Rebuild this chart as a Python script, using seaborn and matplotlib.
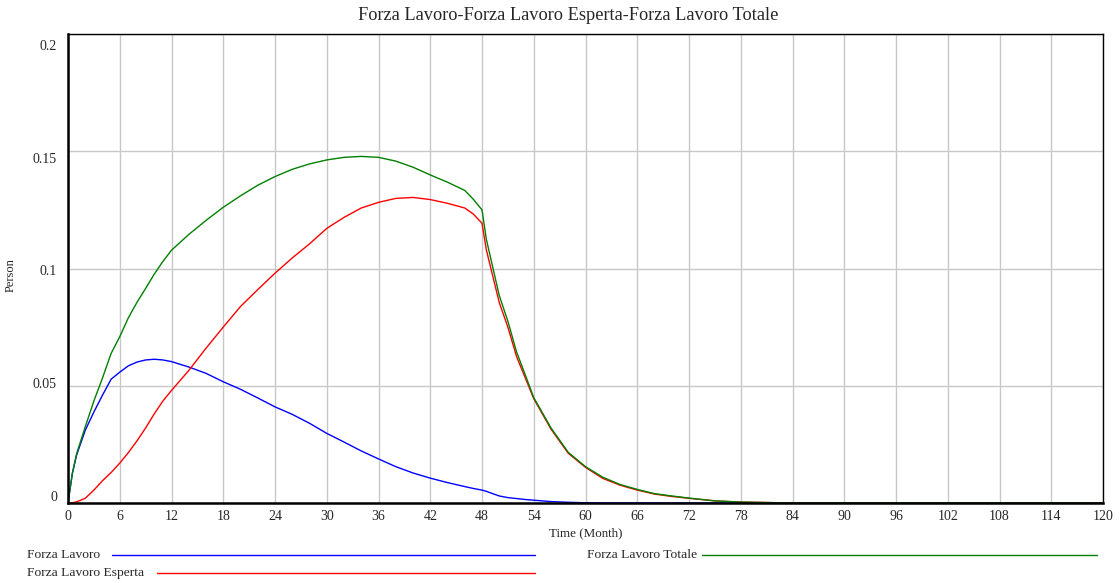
import numpy as np
import pandas as pd
import matplotlib
matplotlib.use("Agg")
import matplotlib.pyplot as plt
import matplotlib.transforms as mtrans
from matplotlib.lines import Line2D
import seaborn as sns

# ---- data ----
time = [0, 0.5, 1, 2, 3, 4, 5, 6, 7, 8, 9, 10, 11, 12, 14, 16, 18, 20, 22, 24, 26, 28, 30, 32, 34,
        36, 38, 40, 42, 44, 46, 47, 48, 48.5, 49, 50, 51, 52, 53, 54, 55, 56, 58, 60, 62, 64,
        66, 68, 70, 72, 75, 78, 81, 84, 90, 100, 110, 120]

forza_lavoro = [0, 0.0125, 0.0205, 0.031, 0.0388, 0.046, 0.0528, 0.0558, 0.0585, 0.0601, 0.061, 0.0613,
                0.061, 0.0603, 0.058, 0.0553, 0.0517, 0.0485, 0.0448, 0.041, 0.0378, 0.034,
                0.0297, 0.026, 0.0222, 0.0188, 0.0155, 0.0128, 0.0106, 0.0087, 0.007, 0.0062,
                0.0055, 0.005, 0.0043, 0.003, 0.0023, 0.0019, 0.0015, 0.0012, 0.0009, 0.0006,
                0.0003, 0.0001, 0, 0, 0, 0, 0, 0, 0, 0, 0, 0, 0, 0, 0, 0]

forza_esperta = [0, 0.0001, 0.0005, 0.002, 0.0055, 0.0095, 0.013, 0.017, 0.0215, 0.0265, 0.032, 0.038,
                 0.0435, 0.048, 0.0565, 0.066, 0.075, 0.0838, 0.091, 0.098, 0.1045, 0.1105,
                 0.1171, 0.1218, 0.1258, 0.1282, 0.1299, 0.1303, 0.1294, 0.1278, 0.1258, 0.1232,
                 0.1193, 0.108, 0.1005, 0.0855, 0.075, 0.0625, 0.0535, 0.0445, 0.038, 0.0315,
                 0.0212, 0.0152, 0.0105, 0.0076, 0.0055, 0.0038, 0.0028, 0.002, 0.0009, 0.0004,
                 0.0002, 0, 0, 0, 0, 0]

forza_totale = [0, 0.0126, 0.021, 0.0325, 0.0435, 0.0533, 0.0638, 0.0709, 0.079, 0.0856, 0.0915, 0.0976,
                0.103, 0.1078, 0.1145, 0.1205, 0.1261, 0.131, 0.1355, 0.1392, 0.1423, 0.1446,
                0.1463, 0.1474, 0.1478, 0.1474, 0.1458, 0.1432, 0.1399, 0.1368, 0.1333, 0.1295,
                0.125, 0.1125, 0.1045, 0.0885, 0.0775, 0.0645, 0.0548, 0.0449, 0.0385, 0.032,
                0.0216, 0.0155, 0.011, 0.0079, 0.0058, 0.004, 0.003, 0.0021, 0.0009, 0.0004,
                0.0002, 0, 0, 0, 0, 0]

series_names = ["Forza Lavoro", "Forza Lavoro Esperta", "Forza Lavoro Totale"]
series_colors = ["#0000ff", "#ff0000", "#008000"]

x_ticks = list(range(0, 121, 6))
y_ticks = [0, 0.05, 0.1, 0.15, 0.2]
y_tick_labels = ["0", "0.05", "0.1", "0.15", "0.2"]

title = "Forza Lavoro-Forza Lavoro Esperta-Forza Lavoro Totale"
x_label = "Time (Month)"
y_label = "Person"

# ---- build long-form frame ----
df = pd.DataFrame({
    "Time": time * 3,
    "Value": forza_lavoro + forza_esperta + forza_totale,
    "Series": sum([[n] * len(time) for n in series_names], []),
})

sns.set_style("white")
plt.rcParams["font.family"] = ["Liberation Serif", "DejaVu Serif"]

W, H = 1120, 583
fig = plt.figure(figsize=(W / 100, H / 100), dpi=100)
ax = fig.add_axes([68 / W, 1 - 503 / H, (1103 - 68) / W, (503 - 34) / H])

sns.lineplot(data=df, x="Time", y="Value", hue="Series", hue_order=series_names,
             palette=dict(zip(series_names, series_colors)), linewidth=1.0,
             legend=False, ax=ax, estimator=None)

ax.set_xlim(0, 120)
ax.set_ylim(0, 0.2)
ax.set_xticks(x_ticks)
ax.set_xticklabels([str(t) for t in x_ticks], fontsize=10)
ax.set_yticks(y_ticks)
ax.set_yticklabels(y_tick_labels, fontsize=10)
ax.tick_params(axis="x", length=0, pad=5)
ax.tick_params(axis="y", length=0, pad=8)
ax.grid(True, color="#c8c8c8", linewidth=1.0)
ax.set_axisbelow(True)
for s in ax.spines.values():
    s.set_visible(True)
    s.set_color("black")
    s.set_linewidth(1.0)
ax.spines["left"].set_linewidth(1.8)
ax.spines["bottom"].set_linewidth(1.8)

# Vensim-style evenly spread y tick labels (offsets in pixels, positive = up)
offsets = [7, 2.75, -1.5, -6.75, -11]
for lab, off in zip(ax.get_yticklabels(), offsets):
    lab.set_transform(lab.get_transform() + mtrans.ScaledTranslation(0, off / 100, fig.dpi_scale_trans))

ax.set_xlabel("")
ax.set_ylabel("")
fig.text(586 / W, 1 - 533 / H, x_label, ha="center", va="center", fontsize=9.4)
fig.text(11 / W, 1 - 275 / H, y_label, ha="center", va="center", rotation=90, fontsize=9)
fig.text(568 / W, 1 - 16 / H, title, ha="center", va="center", fontsize=13.2)

# legend drawn under the plot
leg_items = [
    (series_names[0], series_colors[0], 27, 555, 112, 535),
    (series_names[1], series_colors[1], 27, 573, 157, 535),
    (series_names[2], series_colors[2], 587, 555, 702, 1097),
]
for name, col, tx, ty, lx0, lx1 in leg_items:
    fig.text(tx / W, 1 - ty / H, name, ha="left", va="center", fontsize=9.7)
    fig.add_artist(Line2D([lx0 / W, lx1 / W], [1 - ty / H, 1 - ty / H],
                          color=col, linewidth=1.0, transform=fig.transFigure))

fig.savefig("out.png", dpi=100)
